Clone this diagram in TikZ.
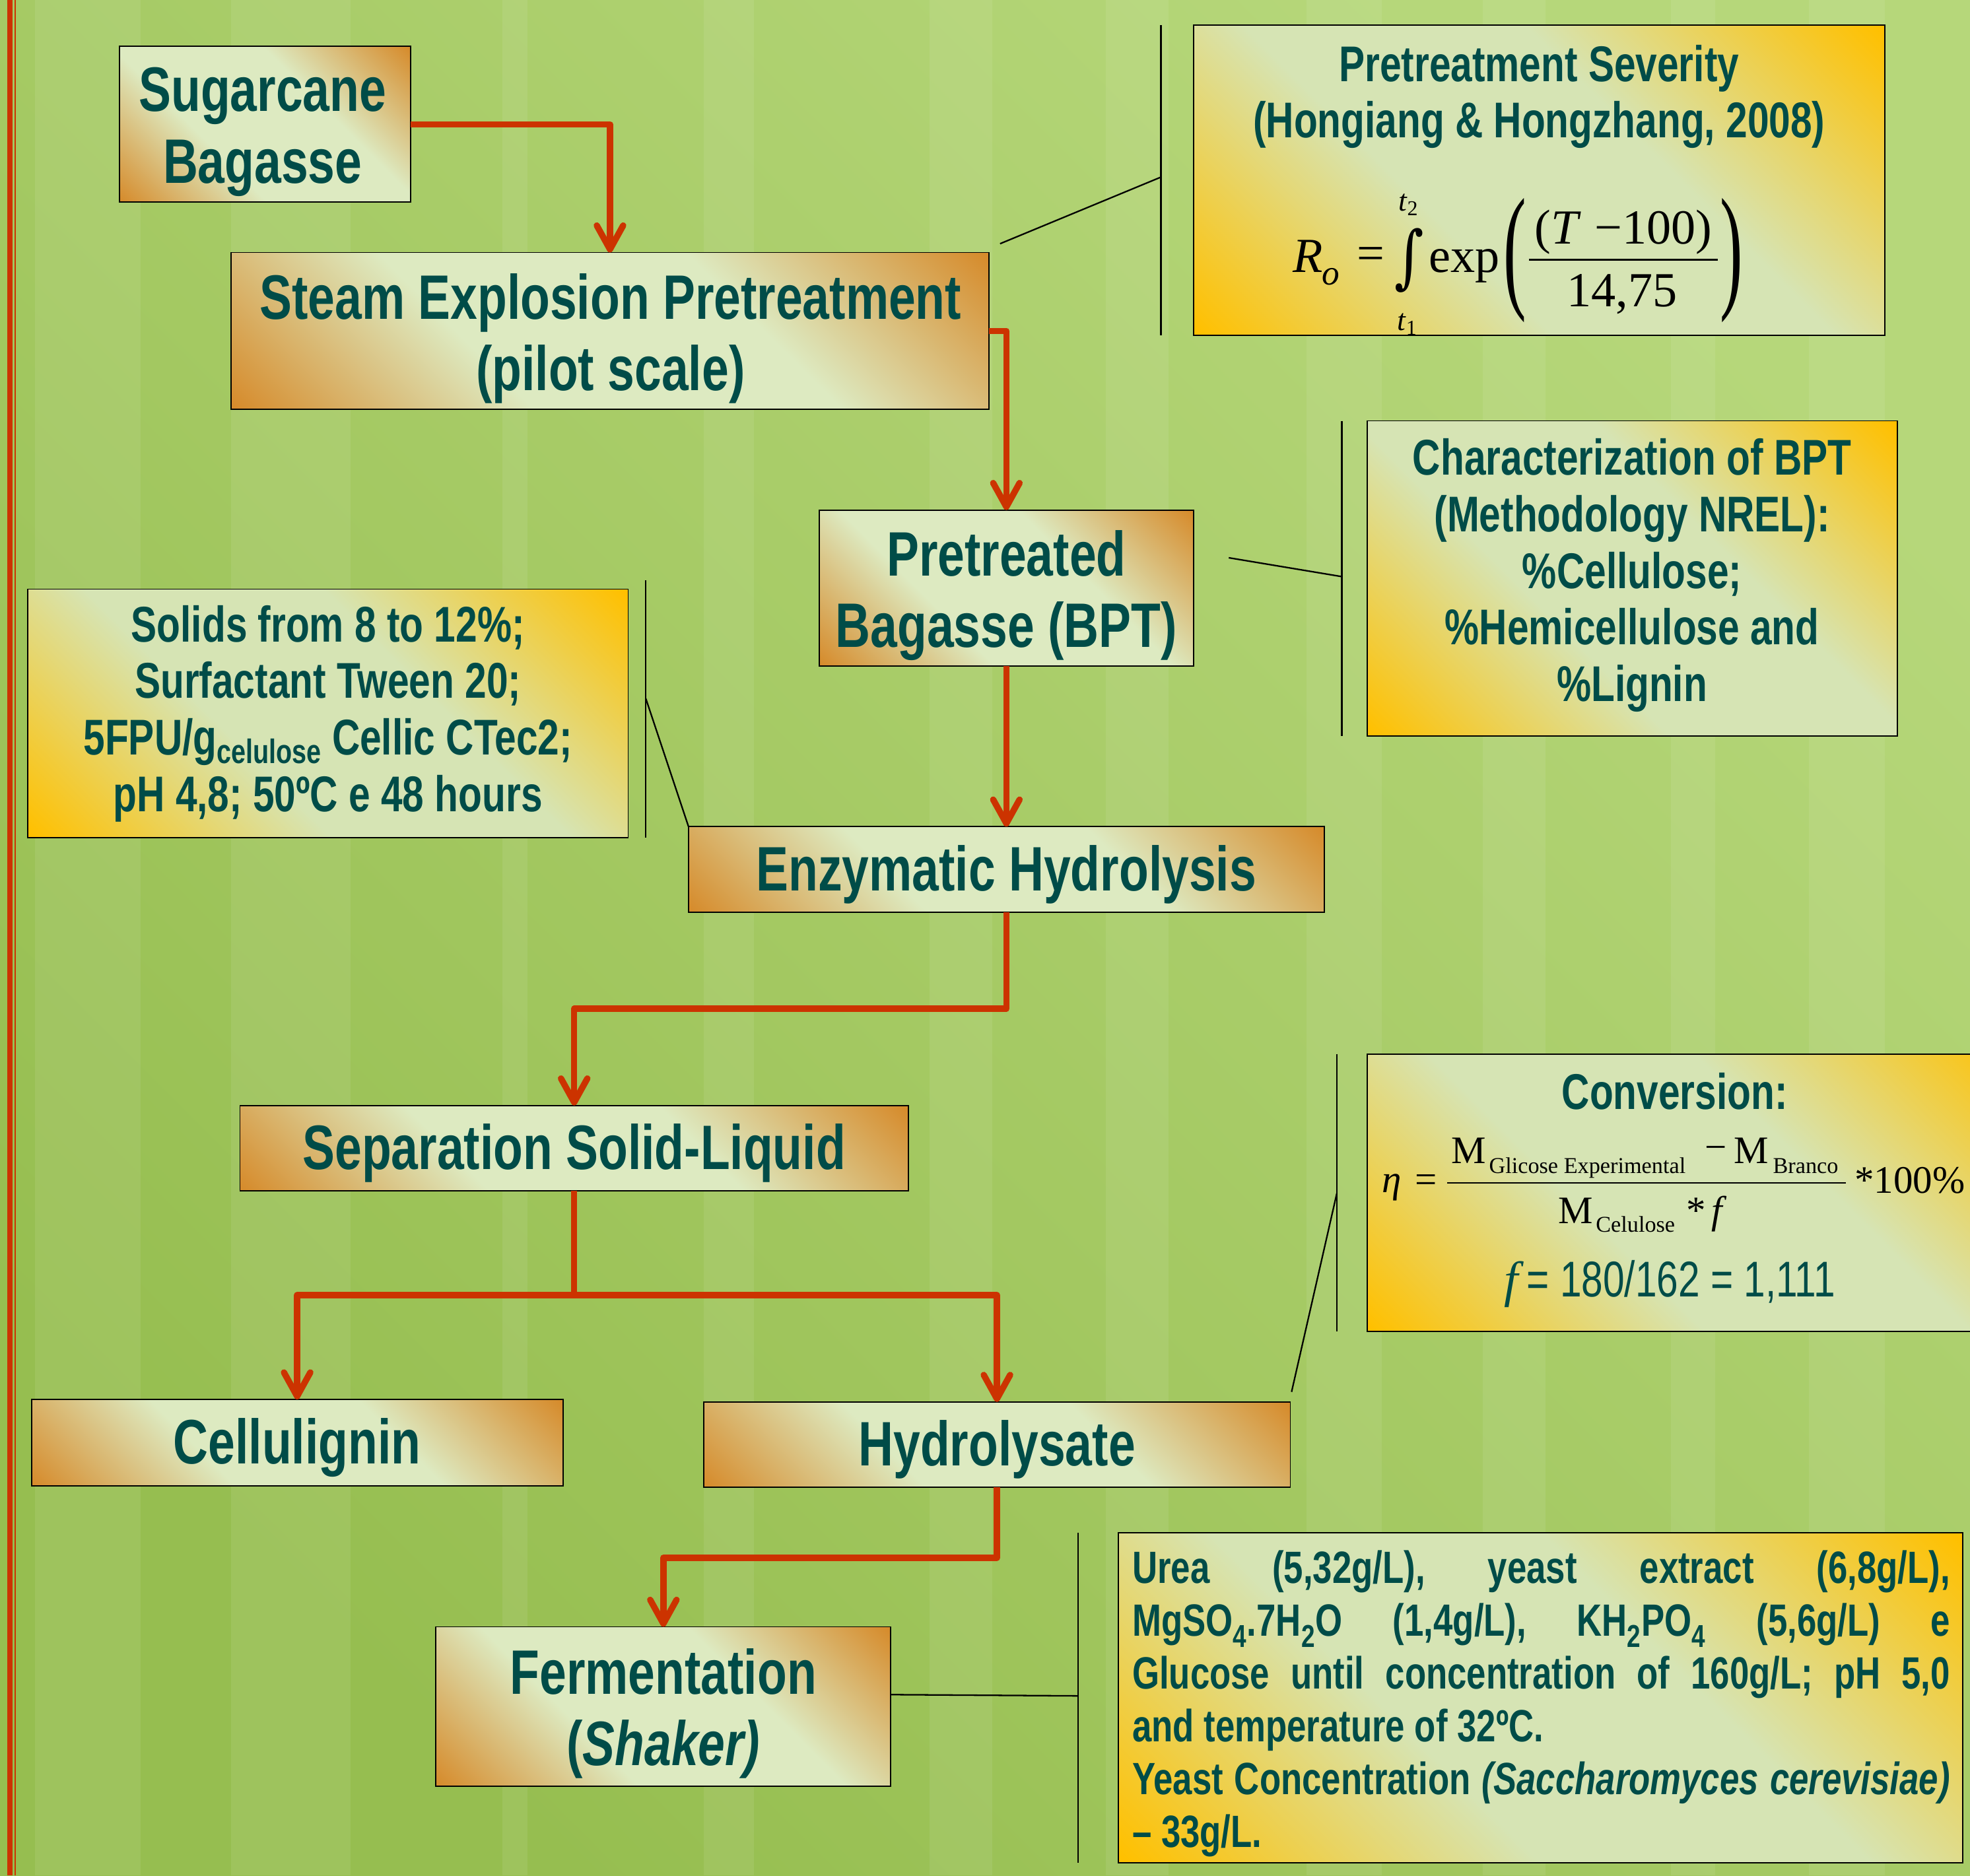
\documentclass[tikz,border=0pt]{standalone}
\usepackage{fontspec}
\usepackage{graphicx}
\usetikzlibrary{arrows.meta}
\newfontfamily\cf{Liberation Sans}[FakeStretch=0.77]
\newfontfamily\tnr{Liberation Serif}
\newfontfamily\djs{DejaVu Serif}
\setlength{\parindent}{0pt}
\definecolor{tealtxt}{RGB}{0,76,72}
\definecolor{redc}{RGB}{204,51,0}
\definecolor{fo}{RGB}{214,140,45}
\definecolor{fp}{RGB}{221,234,193}
\definecolor{io}{RGB}{255,192,0}
\definecolor{ip}{RGB}{214,228,180}
\definecolor{bgl}{RGB}{182,215,122}
\definecolor{bgd}{RGB}{150,190,80}
\pgfdeclarehorizontalshading{flowshade}{100bp}{color(0bp)=(fo); color(15bp)=(fo); color(38bp)=(fp); color(62bp)=(fp); color(85bp)=(fo); color(100bp)=(fo)}
\pgfdeclarehorizontalshading{infoshade}{100bp}{color(0bp)=(io); color(15bp)=(io); color(40bp)=(ip); color(60bp)=(ip); color(85bp)=(io); color(100bp)=(io)}
\tikzset{
  flowbox/.style={draw=black, line width=1pt, shading=flowshade, shading angle=45,
    inner sep=0pt, outer sep=0pt},
  flowtext/.style={inner sep=0pt, text=tealtxt, align=center,
    font=\cf\bfseries\fontsize{50}{57}\selectfont},
  infobox/.style={draw=black, line width=1pt, shading=infoshade, shading angle=45,
    inner sep=0pt, outer sep=0pt},
  infotext/.style={text=tealtxt, align=center, inner sep=0pt,
    font=\cf\bfseries\fontsize{40}{45}\selectfont},
  fml/.style={inner sep=0pt, text=black, font=\tnr\fontsize{39}{46}\selectfont},
  fmlsmall/.style={inner sep=0pt, text=black, font=\tnr\fontsize{24}{28}\selectfont},
  fmlb/.style={inner sep=0pt, text=black, font=\tnr\fontsize{31}{37}\selectfont},
  fsub/.style={inner sep=0pt, text=black, font=\tnr\fontsize{18}{22}\selectfont},
  flow/.style={draw=redc, line width=5pt, line join=round,
    -{Straight Barb[round,length=19pt,width=21pt]}},
  leader/.style={draw=black, line width=1.2pt},
  stripe/.style={fill=white, opacity=0.08},
}
\begin{document}
\begin{tikzpicture}[x=1pt,y=-1pt]
\useasboundingbox (0,0) rectangle (1568,1493);
\clip (0,0) rectangle (1568,1493);
% background
\shade[left color=bgl, right color=bgd, shading angle=-45] (0,0) rectangle (1568,1493);
\foreach \a/\b in {28/100,100/112,184/267,267/279,400/420,560/600,740/790,880/930,1040/1100,1180/1230,1330/1365,1440/1500}
  \fill[stripe] (\a,0) rectangle (\b,1493);
% left red rules
\draw[redc, line width=4.2pt] (7.9,0) -- (7.9,1493);
\draw[redc, line width=1.2pt] (12,0) -- (12,1493);

% flow boxes
\node[flowbox, minimum width=232pt, minimum height=124pt] (sb) at (211,99) {};
\node[flowtext] (sbt) at (209,105) {Sugarcane\\Bagasse};
\node[flowbox, minimum width=603pt, minimum height=125pt] (se) at (485.5,263.5) {};
\node[flowtext] (set) at (486,269.5) {Steam Explosion Pretreatment\\(pilot scale)};
\node[flowbox, minimum width=298pt, minimum height=124pt] (pb) at (801,468) {};
\node[flowtext] (pbt) at (801,474) {Pretreated\\Bagasse (BPT)};
\node[flowbox, minimum width=506pt, minimum height=68pt] (eh) at (801,692) {};
\node[flowtext] (eht) at (801,696) {Enzymatic Hydrolysis};
\node[flowbox, minimum width=532pt, minimum height=68pt] (ss) at (457,914) {};
\node[flowtext] (sst) at (457,918) {Separation Solid-Liquid};
\node[flowbox, minimum width=423pt, minimum height=69pt] (cl) at (236.5,1148.5) {};
\node[flowtext] (clt) at (236.5,1152.5) {Cellulignin};
\node[flowbox, minimum width=467pt, minimum height=68pt] (hy) at (793.5,1150) {};
\node[flowtext] (hyt) at (793.5,1154) {Hydrolysate};
\node[flowbox, minimum width=362pt, minimum height=127pt] (fe) at (528,1358.5) {};
\node[flowtext] (fet) at (528,1364) {Fermentation\\(\textit{Shaker)}};

% info box: pretreatment severity
\node[infobox, minimum width=550pt, minimum height=247pt] (ps) at (1225,143.5) {};
\node[infotext] (pst) at (1225,77) {Pretreatment Severity\\(Hongiang \& Hongzhang, 2008)};
\node[fml, anchor=base west] (f1r) at (1029,217) {\itshape R};
\node[inner sep=0pt, font=\tnr\itshape\fontsize{28}{32}\selectfont, anchor=base west] (f1o) at (1052,227) {o};
\node[fml] (f1eq) at (1091,205.5) {=};
\node[inner sep=0pt, font=\djs\fontsize{39}{46}\selectfont] (f1int) at (1121.5,207.5) {\scalebox{1.15}[1.4]{∫}};
\node[fmlsmall] (f1t2) at (1121,163) {\textit{t}\textsubscript{2}};
\node[fmlsmall] (f1t1) at (1120,258) {\textit{t}\textsubscript{1}};
\node[fml, anchor=base west] (f1exp) at (1137,217) {exp};
\node[fml] (f1lp) at (1206,207.5) {\scalebox{1.4}[2.8]{(}};
\node[fml] (f1num) at (1292,185) {(\textit{T}\;−100)};
\node[fml] (f1den) at (1291,234) {14,75};
\node[fml] (f1rp) at (1378,207.5) {\scalebox{1.4}[2.8]{)}};
\draw[line width=1.6pt] (1217,207) -- (1367,207);

% info box: characterization
\node[infobox, minimum width=422pt, minimum height=251pt] (ch) at (1299,460.5) {};
\node[infotext] (cht) at (1299,458) {Characterization of BPT\\(Methodology NREL):\\\%Cellulose;\\\%Hemicellulose and\\\%Lignin};

% info box: solids
\node[infobox, minimum width=478pt, minimum height=198pt] (so) at (261,568) {};
\node[infotext] (sot) at (261,568) {Solids from 8 to 12\%;\\Surfactant Tween 20;\\5FPU/g{\fontsize{27}{27}\selectfont\raisebox{-7pt}{celulose}} Cellic CTec2;\\pH 4,8; 50ºC e 48 hours};

% info box: conversion
\node[infobox, minimum width=530pt, minimum height=221pt, anchor=west] (cv) at (1088,949.5) {};
\node[infotext] (cvt) at (1333,869) {Conversion:};
\node[fmlb, anchor=base west] (f2eta) at (1100,949.5) {\itshape η};
\node[fmlb] (f2eq) at (1135,942) {=};
\draw[line width=1.3pt] (1152,941.5) -- (1469,941.5);
\node[fmlb, anchor=base west] (f2m1) at (1155,926) {M};
\node[fsub, anchor=base west] (f2s1) at (1185,934) {Glicose Experimental};
\node[fmlb] (f2mi) at (1366,918) {−};
\node[fmlb, anchor=base west] (f2m2) at (1380,926) {M};
\node[fsub, anchor=base west] (f2s2) at (1411,934) {Branco};
\node[fmlb, anchor=base west] (f2m3) at (1240,974) {M};
\node[fsub, anchor=base west] (f2s3) at (1270,981) {Celulose};
\node[fmlb, anchor=base west] (f2st) at (1342,974) {*};
\node[fmlb, anchor=base west] (f2f) at (1362,974) {\itshape f};
\node[fmlb, anchor=base west] (f2pc) at (1476,950) {*100\%};
\node[inner sep=0pt, text=tealtxt, font=\cf\fontsize{40}{45}\selectfont] (cvg) at (1329,1022)
  {{\tnr\itshape f}\,= 180/162 = 1,111};

% info box: fermentation medium
\node[infobox, minimum width=672pt, minimum height=263pt] (ur) at (1226,1351.5) {};
\node[anchor=north west, text width=651pt, align=justify, inner sep=0pt, text=tealtxt,
  font=\cf\bfseries\fontsize{36}{42}\selectfont] (urt) at (901,1234)
  {Urea (5,32g/L), yeast extract (6,8g/L),\linebreak
   MgSO\textsubscript{4}.7H\textsubscript{2}O (1,4g/L), KH\textsubscript{2}PO\textsubscript{4} (5,6g/L) e\linebreak
   Glucose until concentration of 160g/L; pH 5,0\linebreak
   and temperature of 32ºC.\par
   Yeast Concentration \textit{(Saccharomyces cerevisiae)}\linebreak
   – 33g/L.};

% red flow connectors
\coordinate (split) at (457,1031);
\draw[flow] (sb.east) -| (se.north);
\draw[flow] (se.east) -| (pb.north);
\draw[flow] (pb.south) -- (eh.north);
\draw[flow] (eh.south) -- ++(0,77) -| (ss.north);
\draw[flow] (ss.south) -- (split) -| (cl.north);
\draw[flow] (split) -| (hy.north);
\draw[flow] (hy.south) -- ++(0,56) -| (fe.north);

% brackets and leader lines
\coordinate (psb1) at (924,20); \coordinate (psb2) at (924,267);
\coordinate (psm) at (924,141); \coordinate (sea) at (796,194);
\draw[leader] (psb1) -- (psb2);
\draw[leader] (sea) -- (psm);

\coordinate (chb1) at (1068,335); \coordinate (chb2) at (1068,586);
\coordinate (chm) at (1068,459); \coordinate (pba) at (978,444);
\draw[leader] (chb1) -- (chb2);
\draw[leader] (pba) -- (chm);

\coordinate (sob1) at (514,462); \coordinate (sob2) at (514,667);
\coordinate (som) at (514,556);
\draw[leader] (sob1) -- (sob2);
\draw[leader] (som) -- (eh.north west);

\coordinate (cvb1) at (1064,839); \coordinate (cvb2) at (1064,1060);
\coordinate (cvm) at (1064,950); \coordinate (hya) at (1028,1108);
\draw[leader] (cvb1) -- (cvb2);
\draw[leader] (hya) -- (cvm);

\coordinate (urb1) at (858,1220); \coordinate (urb2) at (858,1483);
\coordinate (urm) at (858,1350); \coordinate (fea) at (709,1349);
\draw[leader] (urb1) -- (urb2);
\draw[leader] (fea) -- (urm);
\end{tikzpicture}
\end{document}
